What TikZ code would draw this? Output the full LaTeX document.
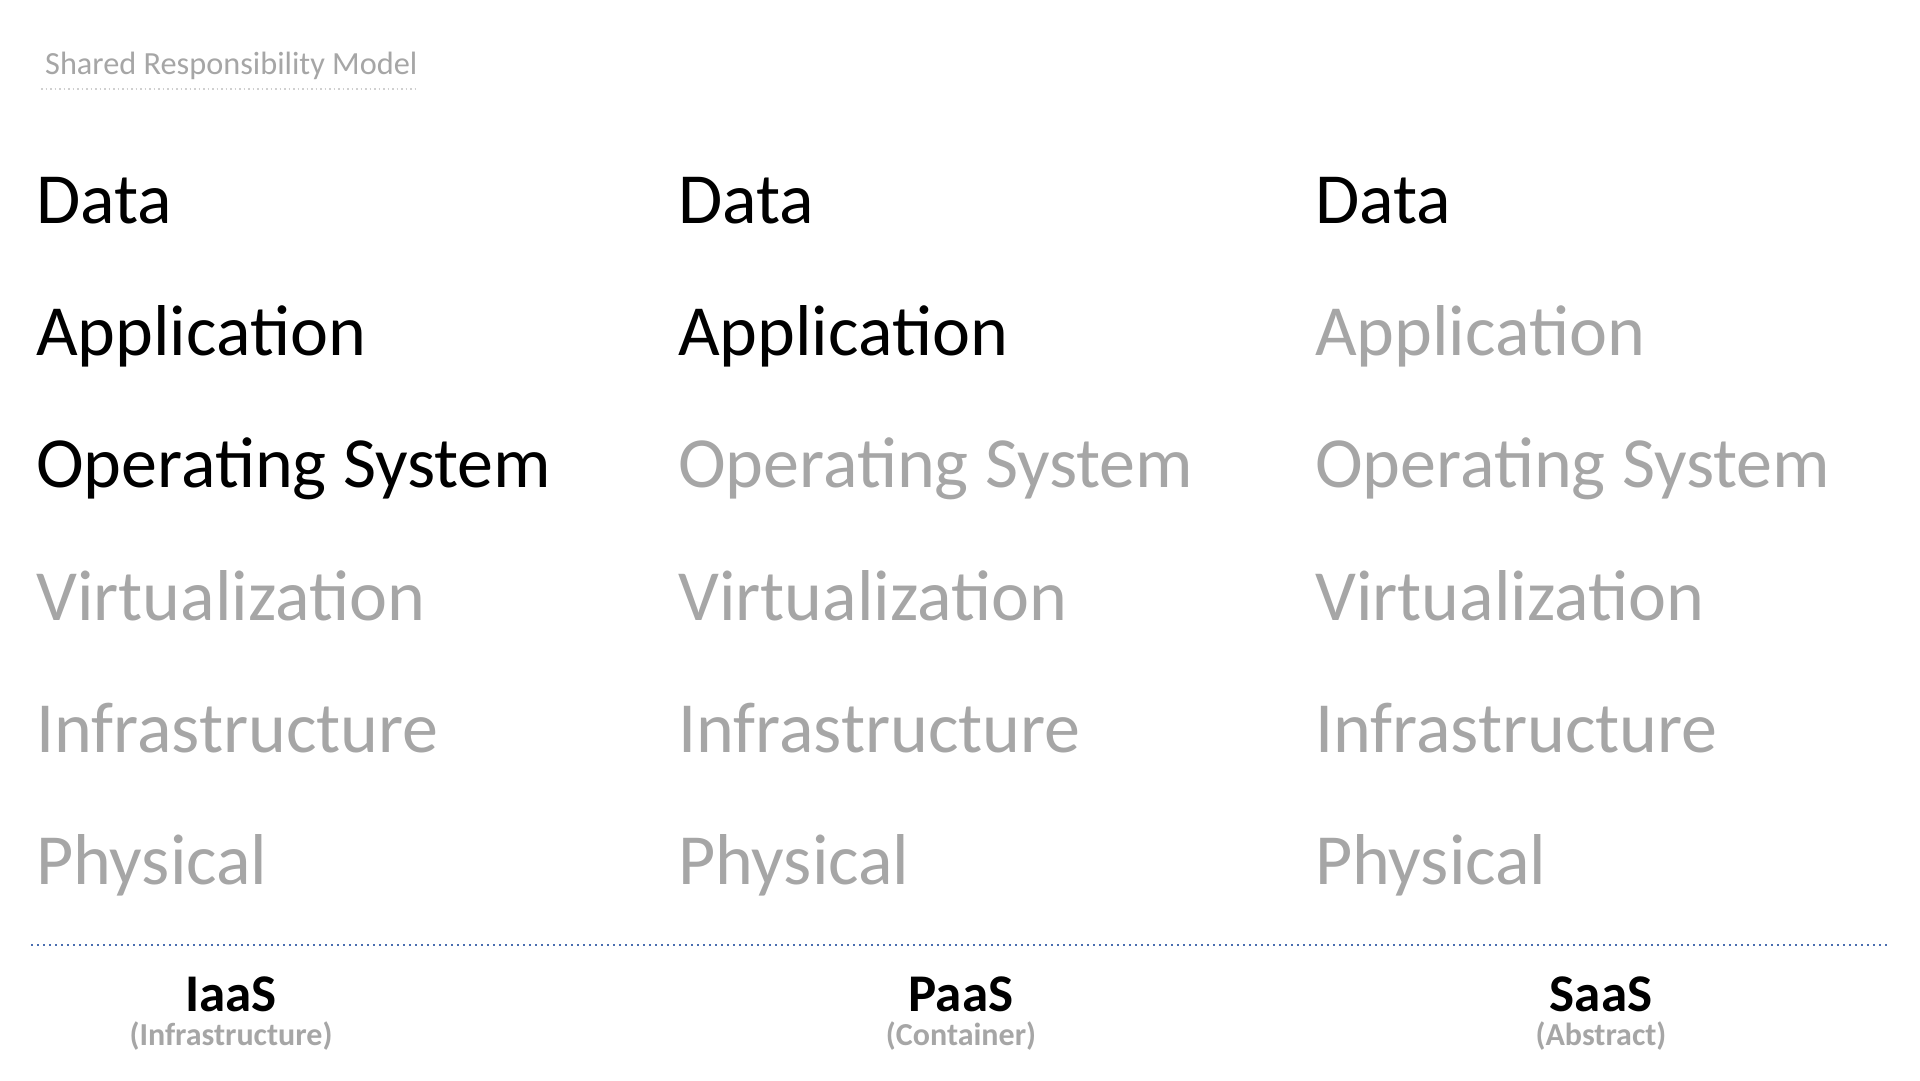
\documentclass[tikz,border=0pt]{standalone}
\usepackage{fontspec}
\setmainfont{Carlito}
\definecolor{lightgraytext}{HTML}{A6A6A6}
\definecolor{ruleblue}{HTML}{4A6EB0}
\definecolor{titlerule}{HTML}{D0D0D0}
\begin{document}
\begin{tikzpicture}[x=1pt,y=-1pt,
  layer/.style={anchor=base west,inner sep=0pt,font=\fontsize{72}{80}\selectfont},
  mine/.style={layer,text=black},
  theirs/.style={layer,text=lightgraytext},
  model/.style={anchor=base,inner sep=0pt,text depth=0pt,font=\bfseries\fontsize{53}{58}\selectfont,text=black},
  kind/.style={anchor=base,inner sep=0pt,text height=0.7em,font=\bfseries\fontsize{32}{37}\selectfont,text=lightgraytext},
  title/.style={anchor=base west,inner sep=0pt,font=\fontsize{32.3}{38}\selectfont,text=lightgraytext}]
\fill[white] (0,0) rectangle (1920,1080);
\useasboundingbox (0,0) rectangle (1920,1080);
% title
\node[title] (ttl) at (45,74) {Shared Responsibility Model};
\coordinate (tl) at (41,89);
\coordinate (tr) at (418,89);
\draw[titlerule,line width=1.5pt,dash pattern=on 1.5pt off 3pt] (tl) -- (tr);
% IaaS
\node[mine]   (a1) at (36,223) {Data};
\node[mine]   (a2) at (36,355) {Application};
\node[mine]   (a3) at (36,487) {Operating System};
\node[theirs] (a4) at (36,620) {Virtualization};
\node[theirs] (a5) at (36,752) {Infrastructure};
\node[theirs] (a6) at (36,884) {Physical};
% PaaS
\node[mine]   (b1) at (678,223) {Data};
\node[mine]   (b2) at (678,355) {Application};
\node[theirs] (b3) at (678,487) {Operating System};
\node[theirs] (b4) at (678,620) {Virtualization};
\node[theirs] (b5) at (678,752) {Infrastructure};
\node[theirs] (b6) at (678,884) {Physical};
% SaaS
\node[mine]   (c1) at (1315,223) {Data};
\node[theirs] (c2) at (1315,355) {Application};
\node[theirs] (c3) at (1315,487) {Operating System};
\node[theirs] (c4) at (1315,620) {Virtualization};
\node[theirs] (c5) at (1315,752) {Infrastructure};
\node[theirs] (c6) at (1315,884) {Physical};
% separator
\coordinate (sl) at (31,945);
\coordinate (sr) at (1887,945);
\draw[ruleblue,line width=2pt,dash pattern=on 2pt off 4pt] (sl) -- (sr);
% labels
\node[model] (ia) at (231,1011) {IaaS};
\node[kind]  (iak) at (231,1045) {(Infrastructure)};
\node[model] (pa) at (961,1011) {PaaS};
\node[kind]  (pak) at (961,1045) {(Container)};
\node[model] (sa) at (1601,1011) {SaaS};
\node[kind]  (sak) at (1601,1045) {(Abstract)};
\end{tikzpicture}
\end{document}
